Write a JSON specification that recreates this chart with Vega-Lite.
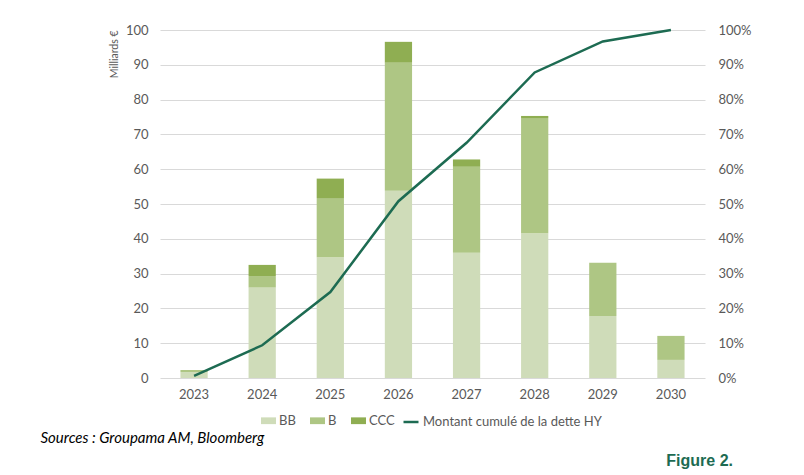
{
  "$schema": "https://vega.github.io/schema/vega-lite/v6.json",
  "width": 545,
  "height": 348,
  "autosize": {"type": "none"},
  "padding": {"left": 160, "top": 30, "right": 99, "bottom": 97},
  "background": "white",
  "title": {
    "text": "Figure 2.",
    "orient": "bottom",
    "anchor": "end",
    "frame": "group",
    "font": "Liberation Sans",
    "fontSize": 16,
    "fontWeight": "bold",
    "color": "#1d6b52",
    "dx": 28,
    "offset": 8
  },
  "config": {
    "view": {"stroke": null},
    "axis": {
      "labelFont": "Lato",
      "labelFontSize": 13,
      "labelColor": "#595959",
      "titleFont": "Lato",
      "titleColor": "#595959",
      "gridColor": "#d9d9d9",
      "gridWidth": 1,
      "domain": false,
      "ticks": false
    },
    "legend": {
      "labelFont": "Lato",
      "labelFontSize": 13,
      "labelColor": "#595959",
      "labelLimit": 0
    }
  },
  "datasets": {
    "encours": [
      {"annee": "2023", "notation": "BB", "rang": 1, "montant": 1.7},
      {"annee": "2023", "notation": "B", "rang": 2, "montant": 0.6},
      {"annee": "2023", "notation": "CCC", "rang": 3, "montant": 0},
      {"annee": "2024", "notation": "BB", "rang": 1, "montant": 26.0},
      {"annee": "2024", "notation": "B", "rang": 2, "montant": 3.3},
      {"annee": "2024", "notation": "CCC", "rang": 3, "montant": 3.2},
      {"annee": "2025", "notation": "BB", "rang": 1, "montant": 34.7},
      {"annee": "2025", "notation": "B", "rang": 2, "montant": 17.0},
      {"annee": "2025", "notation": "CCC", "rang": 3, "montant": 5.6},
      {"annee": "2026", "notation": "BB", "rang": 1, "montant": 53.8},
      {"annee": "2026", "notation": "B", "rang": 2, "montant": 36.8},
      {"annee": "2026", "notation": "CCC", "rang": 3, "montant": 6.0},
      {"annee": "2027", "notation": "BB", "rang": 1, "montant": 36.0},
      {"annee": "2027", "notation": "B", "rang": 2, "montant": 24.7},
      {"annee": "2027", "notation": "CCC", "rang": 3, "montant": 2.1},
      {"annee": "2028", "notation": "BB", "rang": 1, "montant": 41.6},
      {"annee": "2028", "notation": "B", "rang": 2, "montant": 33.1},
      {"annee": "2028", "notation": "CCC", "rang": 3, "montant": 0.6},
      {"annee": "2029", "notation": "BB", "rang": 1, "montant": 17.8},
      {"annee": "2029", "notation": "B", "rang": 2, "montant": 15.3},
      {"annee": "2029", "notation": "CCC", "rang": 3, "montant": 0},
      {"annee": "2030", "notation": "BB", "rang": 1, "montant": 5.2},
      {"annee": "2030", "notation": "B", "rang": 2, "montant": 6.9},
      {"annee": "2030", "notation": "CCC", "rang": 3, "montant": 0}
    ],
    "cumul": [
      {"annee": "2023", "part": 0.006},
      {"annee": "2024", "part": 0.094},
      {"annee": "2025", "part": 0.247},
      {"annee": "2026", "part": 0.508},
      {"annee": "2027", "part": 0.676},
      {"annee": "2028", "part": 0.878},
      {"annee": "2029", "part": 0.967},
      {"annee": "2030", "part": 1.0}
    ]
  },
  "layer": [
    {
      "data": {"name": "encours"},
      "mark": {"type": "bar"},
      "encoding": {
        "x": {
          "field": "annee",
          "type": "nominal",
          "scale": {"paddingInner": 0.6, "paddingOuter": 0.3},
          "axis": {
            "labelAngle": 0,
            "labelPadding": 10,
            "grid": false,
            "title": "Sources : Groupama AM, Bloomberg",
            "titleFont": "Lato",
            "titleFontSize": 15,
            "titleFontStyle": "italic",
            "titleFontWeight": "normal",
            "titleColor": "#000000",
            "titleAlign": "left",
            "titleBaseline": "middle",
            "titleX": -120,
            "titleY": 59
          }
        },
        "y": {
          "field": "montant",
          "type": "quantitative",
          "aggregate": "sum",
          "stack": "zero",
          "scale": {"domain": [0, 100]},
          "axis": {
            "values": [0, 10, 20, 30, 40, 50, 60, 70, 80, 90, 100],
            "labelPadding": 12,
            "title": "Milliards €",
            "titleFontSize": 10.5,
            "titleFontWeight": "normal",
            "titleAnchor": "end",
            "titlePadding": 6
          }
        },
        "order": {"field": "rang", "type": "quantitative", "sort": "ascending"},
        "color": {
          "field": "notation",
          "type": "nominal",
          "sort": ["BB", "B", "CCC"],
          "scale": {
            "domain": ["BB", "B", "CCC"],
            "range": ["#cfdcb9", "#aec684", "#8fae52"]
          },
          "legend": {
            "title": null,
            "orient": "none",
            "direction": "horizontal",
            "legendX": 101,
            "legendY": 383,
            "symbolType": "M-1,-0.45H1V0.45H-1Z",
            "symbolSize": 225,
            "symbolStrokeWidth": 0,
            "labelOffset": 3,
            "columnPadding": 14
          }
        }
      }
    },
    {
      "data": {"name": "cumul"},
      "mark": {"type": "line", "strokeWidth": 2.5},
      "encoding": {
        "x": {"field": "annee", "type": "nominal"},
        "y": {
          "field": "part",
          "type": "quantitative",
          "scale": {"domain": [0, 1]},
          "axis": {
            "orient": "right",
            "format": ".0%",
            "values": [0, 0.1, 0.2, 0.3, 0.4, 0.5, 0.6, 0.7, 0.8, 0.9, 1],
            "labelPadding": 13,
            "grid": false,
            "title": null
          }
        },
        "stroke": {
          "datum": "Montant cumulé de la dette HY",
          "scale": {"range": ["#1d6b52"]},
          "legend": {
            "title": null,
            "orient": "none",
            "legendX": 242,
            "legendY": 383,
            "symbolType": "stroke",
            "symbolSize": 225,
            "symbolStrokeWidth": 2.5,
            "labelOffset": 3
          }
        }
      }
    }
  ],
  "resolve": {"scale": {"y": "independent"}}
}
